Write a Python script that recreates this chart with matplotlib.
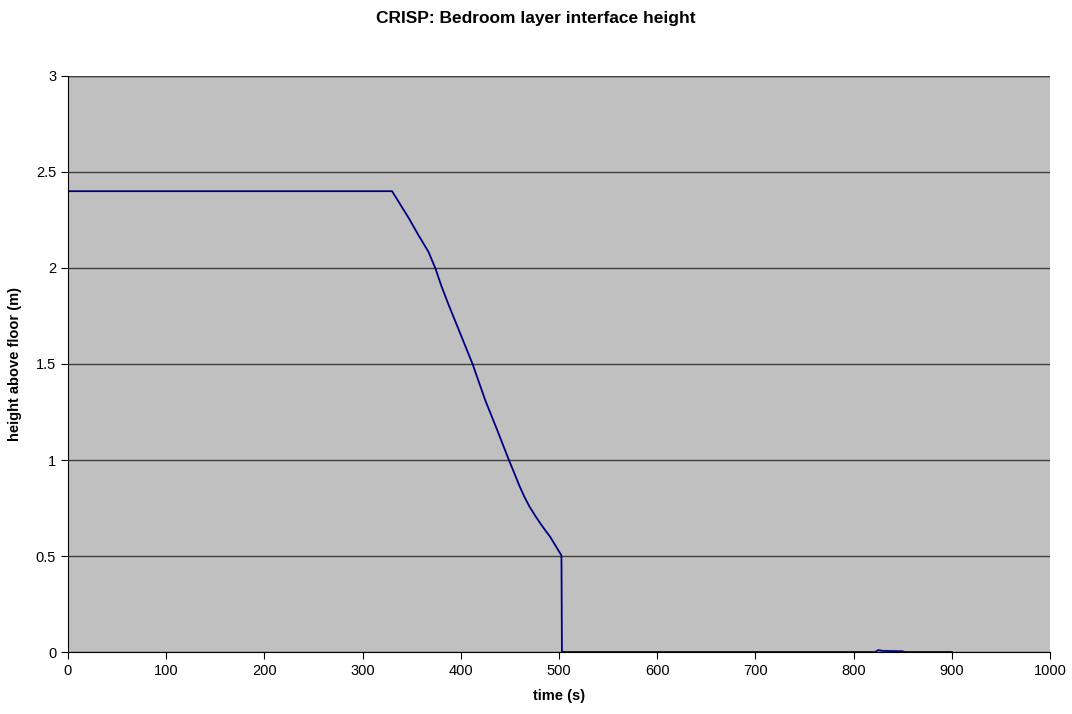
import matplotlib
matplotlib.use("Agg")
import matplotlib.pyplot as plt

plt.rcParams['font.family'] = ['Liberation Sans', 'DejaVu Sans']

# Interface height readings (time s, height m)
time_s = [0, 330, 347, 357, 367, 374, 380, 387, 397, 412, 425, 436, 449,
          455, 460, 465, 470, 476, 481, 486, 491, 502.5, 503, 600, 700, 800,
          822, 825, 830, 850, 852, 900]
height_m = [2.4, 2.4, 2.26, 2.17, 2.085, 2.0, 1.91, 1.816, 1.69, 1.5, 1.31,
            1.17, 1.0, 0.925, 0.862, 0.806, 0.757, 0.708, 0.67, 0.634, 0.60,
            0.503, 0.0, 0.0, 0.0, 0.0, 0.0, 0.01, 0.006, 0.004, 0.0, 0.0]

xticks = list(range(0, 1001, 100))
yticks = [0, 0.5, 1, 1.5, 2, 2.5, 3]
ytick_labels = ['0', '0.5', '1', '1.5', '2', '2.5', '3']

fig = plt.figure(figsize=(10.72, 7.14), dpi=100)
ax = fig.add_axes([0.0634, 0.0868, 0.9161, 0.8068])
ax.set_facecolor('#c0c0c0')

ax.plot(time_s, height_m, color='#000080', linewidth=1.3)

ax.set_xlim(0, 1000)
ax.set_ylim(0, 3)
ax.set_xticks(xticks)
ax.set_yticks(yticks)
ax.set_yticklabels(ytick_labels)
ax.tick_params(labelsize=10.5, direction='out', length=5, color='black')
ax.grid(axis='y', color='#404040', linewidth=1)
ax.set_axisbelow(True)
ax.axhline(3, color='#404040', linewidth=1)

for s in ['top', 'right']:
    ax.spines[s].set_visible(False)
ax.spines['left'].set_color('black')
ax.spines['bottom'].set_color('black')

ax.set_xlabel('time (s)', fontsize=10.5, fontweight='bold', labelpad=8)
ax.set_ylabel('height above floor (m)', fontsize=10.5, fontweight='bold', labelpad=10)
fig.suptitle('CRISP: Bedroom layer interface height', fontsize=12.5,
             fontweight='bold', y=0.985)

fig.savefig('out.png', dpi=100)
